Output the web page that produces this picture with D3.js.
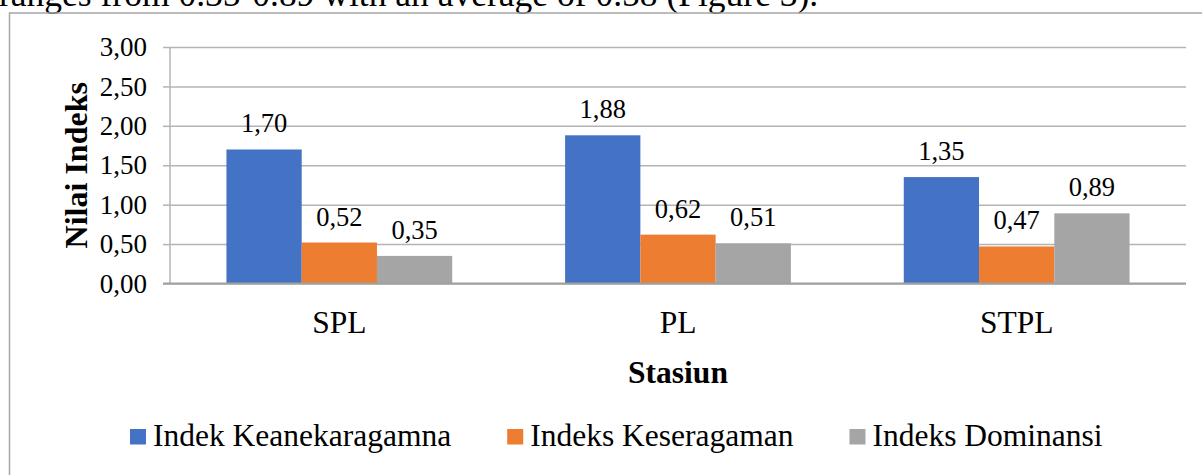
<!DOCTYPE html>
<html>
<head>
<meta charset="utf-8">
<script src="https://cdn.jsdelivr.net/npm/d3@7"></script>
<style>
    body { margin: 0; background: #fff; }
    svg { display: block; font-family: "Liberation Serif", "Times New Roman", serif; }
</style>
</head>
<body>
<div class="svg-container"></div>
<script>
// Data.
const stations = ["SPL", "PL", "STPL"];
const seriesNames = ["Indek Keanekaragamna", "Indeks Keseragaman", "Indeks Dominansi"];
const keanekaragaman = [1.70, 1.88, 1.35];
const keseragaman = [0.52, 0.62, 0.47];
const dominansi = [0.35, 0.51, 0.89];
const yTicks = [0, 0.5, 1, 1.5, 2, 2.5, 3];

const seriesValues = [keanekaragaman, keseragaman, dominansi];
const COLORS = ["#4472C4", "#ED7D31", "#A5A5A5"];

const SVG_WIDTH = 1202;
const SVG_HEIGHT = 475;
const PLOT = { left: 170, right: 1186, top: 47, bottom: 283.5 };
const GRID_COLOR = "#b4b4b4";

const fmt = (v) => d3.format(".2f")(v).replace(".", ",");

const svg = d3
    .select(".svg-container")
    .append("svg")
    .attr("width", SVG_WIDTH)
    .attr("height", SVG_HEIGHT);

// Running text of the page, cut off by the top edge.
svg.append("text")
    .attr("x", -1)
    .attr("y", 6)
    .attr("font-size", 35.5)
    .attr("fill", "#000")
    .text("ranges from 0.35-0.89 with an average of 0.58 (Figure 3).");

// Chart frame (runs past the right and bottom edges).
svg.append("rect")
    .attr("x", 9.5)
    .attr("y", 13)
    .attr("width", 1300)
    .attr("height", 600)
    .attr("fill", "none")
    .attr("stroke", "#a6a6a6")
    .attr("stroke-width", 1.5);

const x = d3
    .scaleBand()
    .domain(stations)
    .range([PLOT.left, PLOT.right])
    .paddingInner(0)
    .paddingOuter(0);

// Excel style: gap width 150% of one bar, bars touching inside a group.
const barWidth = x.bandwidth() / (seriesNames.length + 1.5);
const xInner = d3
    .scaleBand()
    .domain(seriesNames)
    .range([0.75 * barWidth, 0.75 * barWidth + barWidth * seriesNames.length]);

const y = d3.scaleLinear().domain([0, 3]).range([PLOT.bottom, PLOT.top]);

// Gridlines.
svg.append("g")
    .attr("transform", "translate(" + PLOT.left + ",0)")
    .call(d3.axisLeft(y).tickValues(yTicks).tickSize(-(PLOT.right - PLOT.left)).tickFormat(""))
    .call((g) => g.select(".domain").remove())
    .call((g) => g.selectAll("line").attr("stroke", GRID_COLOR).attr("stroke-width", 1.5));

// Y axis with outer tick marks and labels.
const yAxis = svg.append("g")
    .attr("transform", "translate(" + PLOT.left + ",0)")
    .call(d3.axisLeft(y).tickValues(yTicks).tickSize(7).tickPadding(16).tickFormat(fmt));
yAxis.select(".domain").attr("stroke", GRID_COLOR).attr("stroke-width", 1.5).attr("d", "M0," + PLOT.top + "V" + PLOT.bottom);
yAxis.selectAll("line").attr("stroke", GRID_COLOR).attr("stroke-width", 1.5);
yAxis.selectAll("text")
    .attr("font-family", "Liberation Serif, serif")
    .attr("font-size", 27)
    .attr("fill", "#000");

// Bars.
const groups = svg.append("g")
    .selectAll("g.station")
    .data(stations)
    .enter()
    .append("g")
    .classed("station", true)
    .attr("transform", (s) => "translate(" + x(s) + ",0)");

const barData = (s, i) => seriesNames.map((name, k) => ({ name: name, value: seriesValues[k][i], color: COLORS[k] }));

groups.selectAll("rect")
    .data(barData)
    .enter()
    .append("rect")
    .attr("x", (d) => xInner(d.name))
    .attr("y", (d) => y(d.value))
    .attr("width", xInner.bandwidth())
    .attr("height", (d) => y(0) - y(d.value))
    .attr("fill", (d) => d.color);

groups.selectAll("text")
    .data(barData)
    .enter()
    .append("text")
    .attr("x", (d) => xInner(d.name) + xInner.bandwidth() / 2)
    .attr("y", (d) => y(d.value) - 17)
    .attr("text-anchor", "middle")
    .attr("font-size", 26.5)
    .attr("fill", "#000")
    .text((d) => fmt(d.value));

// X axis line and category labels.
const xAxis = svg.append("g")
    .attr("transform", "translate(0," + PLOT.bottom + ")")
    .call(d3.axisBottom(x).tickSize(0).tickPadding(0));
xAxis.select(".domain").attr("stroke", "#a0a0a0").attr("stroke-width", 1.8).attr("d", "M" + (PLOT.left - 7) + ",0H" + PLOT.right);
xAxis.selectAll("text")
    .attr("font-family", "Liberation Serif, serif")
    .attr("font-size", 31.5)
    .attr("fill", "#000")
    .attr("dy", null)
    .attr("y", 49);

// Axis titles.
svg.append("text")
    .attr("x", (PLOT.left + PLOT.right) / 2)
    .attr("y", 383)
    .attr("text-anchor", "middle")
    .attr("font-size", 31.5)
    .attr("font-weight", "bold")
    .text("Stasiun");

svg.append("text")
    .attr("transform", "translate(87," + (PLOT.top + PLOT.bottom) / 2 + ") rotate(-90)")
    .attr("text-anchor", "middle")
    .attr("font-size", 32)
    .attr("font-weight", "bold")
    .text("Nilai Indeks");

// Legend, laid out from measured text widths.
const legend = svg.append("g").attr("transform", "translate(130,446)");
let legendX = 0;
seriesNames.forEach((name, k) => {
    const item = legend.append("g").attr("transform", "translate(" + legendX + ",0)");
    item.append("rect")
        .attr("x", 0)
        .attr("y", -17)
        .attr("width", 16)
        .attr("height", 15.5)
        .attr("fill", COLORS[k]);
    const label = item.append("text")
        .attr("x", 23)
        .attr("y", 0)
        .attr("font-size", 31.5)
        .attr("fill", "#000")
        .text(name);
    legendX += 23 + label.node().getComputedTextLength() + 56;
});
</script>
</body>
</html>
